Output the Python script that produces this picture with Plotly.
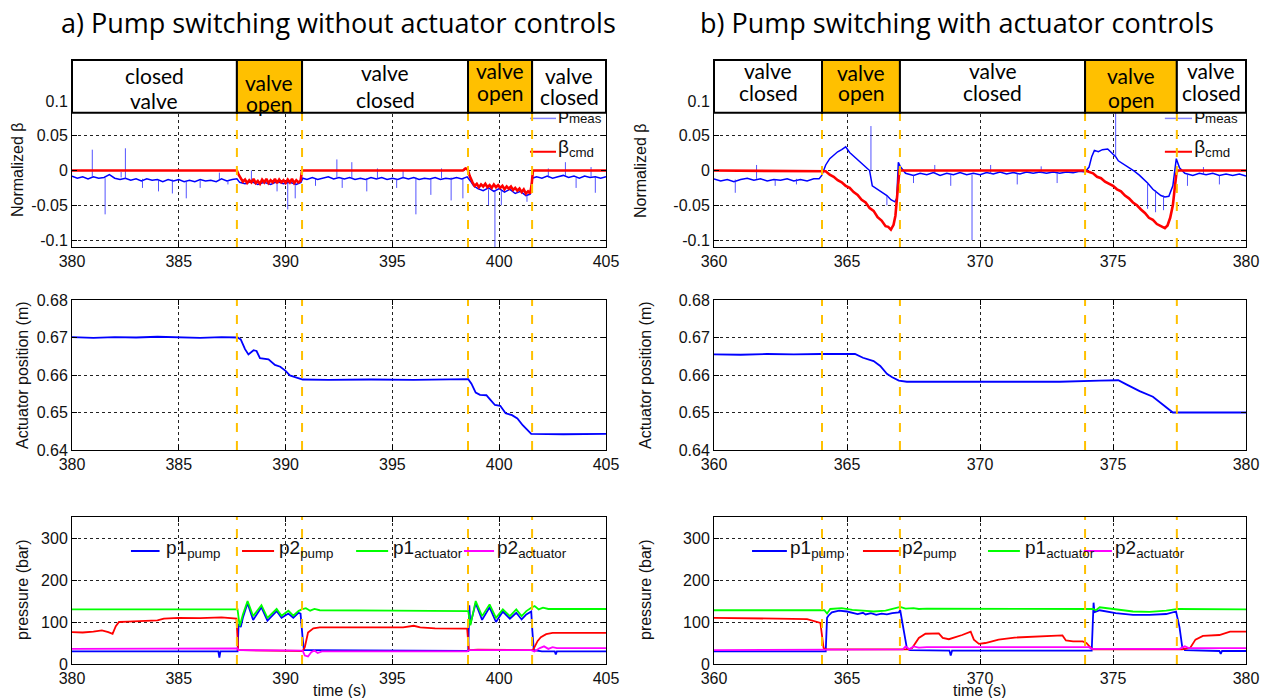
import plotly.graph_objects as go

W, H = 1271, 698

# ---------------- switching times / header ----------------
switch_a = [387.72, 390.77, 398.54, 401.54]
switch_b = [364.06, 366.99, 373.95, 377.40]

header_a_edges = [380, 387.72, 390.77, 398.54, 401.54, 405]
header_a_line1 = ["closed", "valve", "valve", "valve", "valve"]
header_a_line2 = ["valve", "open", "closed", "open", "closed"]
header_a_open = [False, True, False, True, False]
header_a_y1 = [0.1374, 0.1273, 0.1417, 0.1446, 0.1374]
header_a_y2 = [0.1014, 0.0971, 0.1029, 0.1129, 0.1058]

header_b_edges = [360, 364.06, 366.99, 373.95, 377.40, 380]
header_b_line1 = ["valve", "valve", "valve", "valve", "valve"]
header_b_line2 = ["closed", "open", "closed", "open", "closed"]
header_b_open = [False, True, False, True, False]
header_b_y1 = [0.1446, 0.1417, 0.1446, 0.1360, 0.1446]
header_b_y2 = [0.1129, 0.1129, 0.1129, 0.1029, 0.1129]

# ---------------- (a) normalized beta ----------------
beta_meas_a = [
    (380, -0.008), (380.25, -0.011), (380.5, -0.009), (380.75, -0.012), (381.0, -0.009), (381.25, -0.011),
    (381.5, -0.010), (381.75, -0.006), (382.0, -0.011), (382.25, -0.013), (382.5, -0.011), (382.75, -0.014),
    (383.0, -0.012), (383.25, -0.015), (383.5, -0.012), (383.75, -0.014), (384.0, -0.013), (384.25, -0.016),
    (384.5, -0.013), (384.75, -0.015), (385.0, -0.013), (385.25, -0.016), (385.5, -0.014), (385.75, -0.016),
    (386.0, -0.013), (386.25, -0.015), (386.5, -0.014), (386.75, -0.016), (387.0, -0.012), (387.25, -0.015),
    (387.5, -0.013), (387.72, -0.012), (387.85, -0.017), (388.1, -0.019), (388.4, -0.016), (388.7, -0.020),
    (389.0, -0.017), (389.3, -0.020), (389.6, -0.016), (389.9, -0.019), (390.2, -0.017), (390.5, -0.020),
    (390.72, -0.017), (390.8, -0.011), (391.0, -0.013), (391.25, -0.010), (391.5, -0.013), (391.75, -0.011),
    (392.0, -0.009), (392.25, -0.012), (392.5, -0.010), (392.75, -0.012), (393.0, -0.010), (393.25, -0.013),
    (393.5, -0.011), (393.75, -0.013), (394.0, -0.010), (394.25, -0.012), (394.5, -0.010), (394.75, -0.013),
    (395.0, -0.011), (395.25, -0.013), (395.5, -0.010), (395.75, -0.012), (396.0, -0.010), (396.25, -0.013),
    (396.5, -0.011), (396.75, -0.012), (397.0, -0.010), (397.25, -0.013), (397.5, -0.011), (397.75, -0.012),
    (398.0, -0.010), (398.25, -0.012), (398.5, -0.009), (398.65, -0.015), (398.8, -0.022), (399.0, -0.026),
    (399.25, -0.029), (399.5, -0.025), (399.75, -0.030), (400.0, -0.026), (400.25, -0.031), (400.5, -0.027),
    (400.75, -0.033), (401.0, -0.030), (401.25, -0.036), (401.45, -0.034), (401.55, -0.011), (401.75, -0.009),
    (402.0, -0.011), (402.25, -0.008), (402.5, -0.011), (402.75, -0.009), (403.0, -0.007), (403.25, -0.010),
    (403.5, -0.008), (403.75, -0.011), (404.0, -0.008), (404.25, -0.010), (404.5, -0.009), (404.75, -0.011),
    (405, -0.009),
]
# spikes: (time, base, peak)
beta_spikes_a = [
    (380.95, -0.009, 0.030), (381.55, -0.011, -0.063), (382.3, -0.010, -0.002), (382.5, -0.012, 0.032),
    (383.3, -0.012, -0.025), (384.05, -0.014, -0.030), (384.7, -0.013, -0.033), (385.35, -0.015, -0.040),
    (386.0, -0.014, -0.025), (386.9, -0.013, -0.003), (387.3, -0.014, -0.020), (388.4, -0.016, 0.000),
    (389.6, -0.017, -0.030), (390.1, -0.018, -0.056), (390.45, -0.016, -0.040), (390.75, -0.015, 0.002),
    (391.4, -0.012, -0.022), (392.4, -0.010, 0.016), (392.65, -0.011, -0.025), (393.1, -0.012, 0.012),
    (393.8, -0.011, -0.030), (394.3, -0.012, 0.003), (395.2, -0.012, -0.025), (395.5, -0.011, 0.000),
    (396.1, -0.010, -0.063), (396.8, -0.012, -0.035), (397.3, -0.011, 0.003), (397.75, -0.010, -0.043),
    (398.3, -0.012, -0.040), (399.5, -0.027, -0.050), (399.8, -0.028, -0.110), (400.1, -0.028, -0.050),
    (401.3, -0.035, -0.045), (402.3, -0.010, 0.003), (403.1, -0.008, 0.012), (403.6, -0.011, -0.025),
    (404.3, -0.009, 0.005), (404.5, -0.010, -0.032),
]
beta_cmd_a = [
    (380, 0), (387.72, 0), (387.8, -0.006), (387.9, -0.012), (388.0, -0.016), (388.1, -0.013), (388.2, -0.018),
    (388.3, -0.014), (388.4, -0.017), (388.5, -0.012), (388.6, -0.018), (388.7, -0.015), (388.8, -0.019),
    (388.9, -0.013), (389.0, -0.017), (389.1, -0.012), (389.2, -0.018), (389.3, -0.014), (389.4, -0.017),
    (389.5, -0.012), (389.6, -0.018), (389.7, -0.013), (389.8, -0.017), (389.9, -0.014), (390.0, -0.018),
    (390.1, -0.013), (390.2, -0.017), (390.3, -0.012), (390.4, -0.018), (390.5, -0.014), (390.6, -0.017),
    (390.7, -0.015), (390.77, 0), (398.3, 0),
    (398.42, 0.003), (398.52, 0.002), (398.62, -0.008), (398.75, -0.017), (398.85, -0.022), (398.95, -0.019),
    (399.05, -0.024), (399.15, -0.020), (399.25, -0.023), (399.35, -0.019), (399.45, -0.024), (399.55, -0.021),
    (399.65, -0.025), (399.75, -0.020), (399.85, -0.024), (399.95, -0.021), (400.05, -0.025), (400.15, -0.022),
    (400.25, -0.027), (400.35, -0.023), (400.45, -0.026), (400.55, -0.023), (400.65, -0.028), (400.75, -0.025),
    (400.85, -0.029), (400.95, -0.026), (401.05, -0.031), (401.15, -0.027), (401.25, -0.033), (401.35, -0.030),
    (401.45, -0.033), (401.52, -0.020), (401.58, 0),
    (405, 0),
]

# ---------------- (b) normalized beta ----------------
beta_meas_b = [
    (360, -0.012), (360.25, -0.015), (360.5, -0.013), (360.75, -0.016), (361.0, -0.013), (361.25, -0.011),
    (361.5, -0.014), (361.75, -0.012), (362.0, -0.015), (362.25, -0.013), (362.5, -0.014), (362.75, -0.012),
    (363.0, -0.015), (363.25, -0.013), (363.5, -0.015), (363.75, -0.012), (363.95, -0.012), (364.05, -0.007),
    (364.2, 0.008), (364.35, 0.017), (364.5, 0.022), (364.65, 0.027), (364.8, 0.030), (364.95, 0.034),
    (365.1, 0.026), (365.25, 0.021), (365.4, 0.015), (365.55, 0.010), (365.7, 0.005), (365.85, 0.000),
    (365.95, -0.022), (366.1, -0.026), (366.3, -0.031), (366.5, -0.036), (366.65, -0.042), (366.8, -0.045),
    (366.87, -0.040), (366.93, 0.012), (367.0, 0.006), (367.2, -0.004), (367.5, -0.007), (367.75, -0.004),
    (368.0, -0.006), (368.25, -0.003), (368.5, -0.007), (368.75, -0.004), (369.0, -0.006), (369.25, -0.003),
    (369.5, -0.006), (369.75, -0.004), (370.0, -0.006), (370.25, -0.003), (370.5, -0.005), (370.75, -0.002),
    (371.0, -0.005), (371.25, -0.003), (371.5, -0.005), (371.75, -0.002), (372.0, -0.004), (372.25, -0.002),
    (372.5, -0.004), (372.75, -0.002), (373.0, -0.004), (373.25, -0.002), (373.5, -0.003), (373.75, -0.001),
    (373.95, -0.002), (374.1, 0.005), (374.2, 0.020), (374.3, 0.029), (374.45, 0.027), (374.6, 0.030),
    (374.8, 0.031), (374.95, 0.026), (375.1, 0.020), (375.2, 0.014), (375.4, 0.009), (375.6, 0.005),
    (375.8, -0.001), (376.0, -0.007), (376.15, -0.012), (376.3, -0.018), (376.5, -0.027), (376.65, -0.032),
    (376.8, -0.036), (376.95, -0.038), (377.1, -0.037), (377.25, -0.022), (377.38, 0.017), (377.5, 0.004),
    (377.7, -0.004), (378.0, -0.007), (378.25, -0.004), (378.5, -0.006), (378.75, -0.004), (379.0, -0.007),
    (379.25, -0.005), (379.5, -0.007), (379.75, -0.005), (380, -0.008),
]
beta_spikes_b = [
    (360.8, -0.013, -0.032), (361.6, -0.012, 0.008), (362.3, -0.013, -0.022), (363.1, -0.012, -0.020),
    (365.9, 0.000, 0.064), (366.5, -0.036, -0.050), (367.5, -0.006, -0.018), (368.3, -0.005, 0.008),
    (368.9, -0.006, -0.022), (369.7, -0.006, -0.100), (370.4, -0.005, 0.008), (371.4, -0.004, -0.020),
    (372.3, -0.004, 0.006), (372.9, -0.004, -0.018), (375.1, 0.020, 0.090), (376.3, -0.018, -0.055),
    (376.6, -0.028, -0.060), (376.9, -0.036, -0.057), (377.8, -0.005, -0.022), (378.4, -0.006, 0.005),
    (379.0, -0.007, -0.020),
]
beta_cmd_b = [
    (360, 0), (364.06, 0), (364.2, -0.001), (364.35, -0.006), (364.5, -0.009), (364.65, -0.014), (364.8, -0.017),
    (364.95, -0.022), (365.1, -0.025), (365.25, -0.031), (365.4, -0.035), (365.55, -0.042), (365.7, -0.046),
    (365.85, -0.054), (366.0, -0.058), (366.15, -0.067), (366.3, -0.072), (366.45, -0.080), (366.55, -0.081),
    (366.65, -0.085), (366.75, -0.078), (366.82, -0.065), (366.87, -0.042), (366.92, -0.010), (366.97, 0),
    (373.95, 0), (374.1, -0.002), (374.25, -0.004), (374.4, -0.009), (374.55, -0.011), (374.7, -0.016),
    (374.85, -0.019), (375.0, -0.022), (375.15, -0.027), (375.3, -0.030), (375.45, -0.036), (375.6, -0.040),
    (375.75, -0.046), (375.9, -0.050), (376.05, -0.056), (376.2, -0.061), (376.35, -0.068), (376.5, -0.071),
    (376.65, -0.077), (376.8, -0.080), (376.95, -0.083), (377.05, -0.079), (377.15, -0.068), (377.25, -0.050),
    (377.32, -0.025), (377.38, -0.005), (377.42, 0), (380, 0),
]

# ---------------- actuator position ----------------
pos_a = [
    (380, 0.6701), (381, 0.6699), (382, 0.6701), (383, 0.6700), (384, 0.6702), (385, 0.6700), (386, 0.6699),
    (387, 0.6701), (387.75, 0.6700), (387.9, 0.6695), (388.1, 0.6669), (388.26, 0.6655), (388.5, 0.6666),
    (388.64, 0.6664), (388.8, 0.6645), (389.2, 0.6642), (389.5, 0.6627), (389.75, 0.6622), (390.0, 0.6611),
    (390.2, 0.6599), (390.6, 0.6593), (390.8, 0.6588), (392, 0.6587), (394, 0.6588), (396, 0.6587),
    (398.55, 0.6589), (398.7, 0.6577), (398.9, 0.6553), (399.1, 0.6547), (399.4, 0.6546), (399.6, 0.6533),
    (399.8, 0.6520), (400.05, 0.6518), (400.3, 0.6498), (400.6, 0.6493), (400.85, 0.6484), (401.1, 0.6466),
    (401.4, 0.6448), (401.5, 0.6443), (403, 0.6442), (405, 0.6443),
]
pos_b = [
    (360, 0.6655), (361, 0.6654), (362, 0.6656), (363, 0.6655), (364, 0.6656), (365.3, 0.6656),
    (365.6, 0.6646), (366.0, 0.6637), (366.25, 0.6624), (366.5, 0.6603), (366.7, 0.6594), (366.95, 0.6585),
    (367.25, 0.6582), (369, 0.6582), (371, 0.6583), (373, 0.6582), (374.5, 0.6585), (375.2, 0.6586),
    (375.5, 0.6575), (376.0, 0.6557), (376.5, 0.6542), (376.8, 0.6525), (377.1, 0.6507), (377.25, 0.6500),
    (378.5, 0.6500), (380, 0.6500),
]

# ---------------- pressures (bar) ----------------
p1_pump_a = [
    (380, 30), (386.85, 30), (386.9, 15), (386.95, 30), (387.75, 30), (387.8, 95), (387.9, 88), (388.0, 110),
    (388.22, 145), (388.48, 105), (388.87, 135), (389.15, 103), (389.58, 126), (389.81, 110), (390.13, 120),
    (390.36, 110), (390.6, 122), (390.7, 120), (390.8, 60), (390.86, 33), (391, 33), (395, 31), (398.55, 31),
    (398.6, 140), (398.65, 95), (398.9, 145), (399.2, 105), (399.55, 135), (399.85, 100), (400.17, 125),
    (400.5, 108), (400.8, 122), (401.05, 106), (401.27, 118), (401.5, 125), (401.55, 80), (401.62, 33),
    (402, 30), (402.6, 30), (402.65, 23), (402.7, 30), (405, 30),
]
p2_pump_a = [
    (380, 76), (380.5, 75), (381.0, 77), (381.4, 80), (381.7, 76), (381.9, 72), (382.05, 90), (382.2, 100),
    (382.6, 101), (383.5, 102), (384.0, 104), (384.3, 108), (385, 110), (386, 109), (387, 111), (387.7, 108),
    (387.78, 33), (388, 33), (390.8, 31), (390.9, 40), (391.05, 75), (391.3, 85), (391.6, 87), (393, 87),
    (395.5, 87), (396.0, 91), (396.3, 87), (397, 85), (398.5, 84), (398.58, 33), (399, 34), (401.5, 33),
    (401.6, 35), (401.8, 55), (401.95, 64), (402.2, 71), (402.5, 74), (405, 74),
]
p1_act_a = [
    (380, 130), (387.75, 130), (387.85, 90), (388.0, 118), (388.22, 150), (388.48, 114), (388.87, 140),
    (389.15, 110), (389.58, 131), (389.81, 115), (390.13, 127), (390.36, 115), (390.6, 126), (390.75, 130),
    (390.95, 133), (391.15, 127), (391.35, 131), (391.6, 128), (395, 127), (398.55, 126), (398.65, 92),
    (398.9, 150), (399.2, 114), (399.55, 142), (399.85, 110), (400.17, 130), (400.5, 114), (400.8, 130),
    (401.05, 114), (401.27, 126), (401.5, 134), (401.66, 138), (401.85, 130), (402.05, 134), (402.3, 131),
    (405, 131),
]
p2_act_a = [
    (380, 36), (387.75, 37), (387.8, 33), (390.8, 32), (390.9, 20), (391.05, 18), (391.2, 28), (391.35, 32),
    (391.5, 26), (391.7, 30), (398.5, 30), (398.6, 33), (401.5, 33), (401.65, 30), (401.9, 38), (402.1, 42),
    (402.3, 36), (402.5, 40), (402.7, 38), (405, 38),
]

p1_pump_b = [
    (360, 30), (364.2, 30), (364.25, 110), (364.3, 115), (364.43, 123), (364.7, 127), (365.0, 125),
    (365.2, 122), (365.4, 119), (365.6, 122), (365.7, 118), (365.9, 121), (366.1, 117), (366.3, 120),
    (366.5, 118), (366.7, 121), (366.95, 123), (367.0, 128), (367.15, 73), (367.25, 38), (367.35, 33),
    (368.85, 32), (368.9, 20), (368.95, 32), (374.2, 32), (374.27, 146), (374.3, 123), (374.5, 128),
    (375.1, 121), (375.75, 117), (376.37, 117), (377.0, 119), (377.37, 125), (377.5, 88), (377.6, 42),
    (377.7, 33), (379.0, 31), (379.05, 24), (379.1, 31), (380, 31),
]
p2_pump_b = [
    (360, 110), (362, 109), (363.5, 107), (364.0, 98), (364.12, 38), (364.2, 35), (367.3, 35), (367.45, 38),
    (367.7, 62), (367.95, 72), (368.45, 73), (368.6, 62), (368.83, 59), (369.33, 69), (369.65, 77),
    (369.77, 58), (369.96, 48), (370.2, 50), (370.7, 58), (371.3, 63), (371.97, 65), (373.1, 68),
    (373.23, 56), (373.5, 54), (373.86, 54), (374.0, 50), (374.17, 38), (374.25, 35), (377.6, 35),
    (377.9, 38), (378.1, 58), (378.38, 67), (379.0, 69), (379.4, 77), (380, 77),
]
p1_act_b = [
    (360, 128), (364.15, 128), (364.25, 120), (364.37, 131), (364.8, 133), (365.2, 129), (365.6, 127),
    (366.0, 125), (366.45, 127), (366.9, 133), (367.0, 136), (367.2, 132), (367.5, 133), (367.7, 131),
    (368, 132), (374.25, 131), (374.36, 128), (374.5, 135), (375.0, 131), (375.75, 125), (376.37, 124),
    (377.0, 127), (377.45, 131), (377.6, 131), (380, 130),
]
p2_act_b = [
    (360, 33), (367.1, 35), (367.2, 42), (367.35, 35), (367.5, 42), (367.7, 39), (368, 40), (374.1, 40),
    (374.2, 36), (377.5, 36), (377.7, 42), (377.85, 38), (380, 38),
]

# ---------------- axes ticks ----------------
xticks_a = [380, 385, 390, 395, 400, 405]
xticks_b = [360, 365, 370, 375, 380]
beta_ticks = [-0.1, -0.05, 0, 0.05, 0.1]
beta_ticklabels = ["-0.1", "-0.05", "0", "0.05", "0.1"]
pos_ticks = [0.64, 0.65, 0.66, 0.67, 0.68]
pos_ticklabels = ["0.64", "0.65", "0.66", "0.67", "0.68"]
p_ticks = [0, 100, 200, 300]

# ---------------- colours ----------------
BLUE = "#0000FF"
RED = "#FF0000"
GREEN = "#00FF00"
MAGENTA = "#FF00FF"
ORANGE = "#FFC000"

TICKFONT = dict(family="Liberation Sans, Arial, sans-serif", size=16, color="#111111")
HEADFONT = dict(family="Lato, Open Sans, sans-serif", size=21, color="#000000")


def xy(pairs):
    return [p[0] for p in pairs], [p[1] for p in pairs]


def spike_xy(lst):
    xs, ys = [], []
    for t, b, p in lst:
        xs += [t, t, None]
        ys += [b, p, None]
    return xs, ys


# paper layout (pixels -> fractions)
xdom_a = [72 / W, 606 / W]
xdom_b = [714 / W, 1246 / W]
ydom_top = [1 - 247 / H, 1 - 60 / H]
ydom_mid = [1 - 450 / H, 1 - 300 / H]
ydom_bot = [1 - 664 / H, 1 - 517 / H]

BETA_RANGE = [-0.110, 0.159]
HEADER_BOTTOM = 0.083

fig = go.Figure()


def add_line(pairs, color, width, xa, ya):
    x, y = xy(pairs)
    fig.add_trace(go.Scatter(x=x, y=y, mode="lines", line=dict(color=color, width=width),
                             xaxis=xa, yaxis=ya, showlegend=False, hoverinfo="skip"))


# top row
for meas, spk, cmd, xa, ya in [(beta_meas_a, beta_spikes_a, beta_cmd_a, "x", "y"),
                                (beta_meas_b, beta_spikes_b, beta_cmd_b, "x2", "y2")]:
    add_line(meas, BLUE, 1.5, xa, ya)
    sx, sy = spike_xy(spk)
    fig.add_trace(go.Scatter(x=sx, y=sy, mode="lines", line=dict(color="rgba(40,40,255,0.8)", width=1),
                             xaxis=xa, yaxis=ya, showlegend=False, hoverinfo="skip"))
    add_line(cmd, RED, 2.6, xa, ya)

# middle row
add_line(pos_a, BLUE, 1.8, "x3", "y3")
add_line(pos_b, BLUE, 1.8, "x4", "y4")

# bottom row
for series, xa, ya in [((p1_pump_a, p2_pump_a, p1_act_a, p2_act_a), "x5", "y5"),
                       ((p1_pump_b, p2_pump_b, p1_act_b, p2_act_b), "x6", "y6")]:
    for pairs, col in zip(series, [BLUE, RED, GREEN, MAGENTA]):
        add_line(pairs, col, 1.8, xa, ya)

# legend labels of top row as text traces (partly covered by header box as in original)
for xa, ya, xl in [("x", "y", 402.75), ("x2", "y2", 378.05)]:
    fig.add_trace(go.Scatter(x=[xl, xl], y=[0.081, 0.032], mode="text",
                             text=["β<sub>meas</sub>", "β<sub>cmd</sub>"], textposition="middle right",
                             textfont=dict(family="Liberation Sans, Arial", size=19, color="#111"),
                             xaxis=xa, yaxis=ya, showlegend=False, hoverinfo="skip", cliponaxis=False))

shapes = []
annotations = []

# top-row legend keys
for xr, yr, x0, x1 in [("x", "y", 401.44, 402.66), ("x2", "y2", 376.95, 377.97)]:
    shapes.append(dict(type="line", xref=xr, yref=yr, x0=x0, x1=x1, y0=0.075, y1=0.075,
                       line=dict(color="rgba(90,90,255,0.75)", width=1.5), layer="above"))
    shapes.append(dict(type="line", xref=xr, yref=yr, x0=x0, x1=x1, y0=0.027, y1=0.027,
                       line=dict(color=RED, width=2), layer="above"))

# dashed switching lines
for sw, rows in [(switch_a, [("x", "y", BETA_RANGE[0], HEADER_BOTTOM), ("x3", "y3", 0.64, 0.68), ("x5", "y5", 0, 350)]),
                 (switch_b, [("x2", "y2", BETA_RANGE[0], HEADER_BOTTOM), ("x4", "y4", 0.64, 0.68), ("x6", "y6", 0, 350)])]:
    for t in sw:
        for xr, yr, y0, y1 in rows:
            shapes.append(dict(type="line", xref=xr, yref=yr, x0=t, x1=t, y0=y0, y1=y1,
                               line=dict(color=ORANGE, width=2, dash="dash"), layer="above"))

# header boxes
for edges, l1, l2, opens, y1s, y2s, xr, yr in [
        (header_a_edges, header_a_line1, header_a_line2, header_a_open, header_a_y1, header_a_y2, "x", "y"),
        (header_b_edges, header_b_line1, header_b_line2, header_b_open, header_b_y1, header_b_y2, "x2", "y2")]:
    for i in range(len(l1)):
        shapes.append(dict(type="rect", xref=xr, yref=yr, x0=edges[i], x1=edges[i + 1],
                           y0=HEADER_BOTTOM, y1=BETA_RANGE[1],
                           fillcolor=ORANGE if opens[i] else "white",
                           line=dict(color="black", width=2), layer="above"))
        xc = (edges[i] + edges[i + 1]) / 2
        for txt, yv in [(l1[i], y1s[i]), (l2[i], y2s[i])]:
            annotations.append(dict(xref=xr, yref=yr, x=xc, y=yv, text=txt, showarrow=False, font=HEADFONT,
                                    xanchor="center", yanchor="middle"))

# bottom legends
LEG_Y = 269
leg_labels = ["p1<sub>pump</sub>", "p2<sub>pump</sub>", "p1<sub>actuator</sub>", "p2<sub>actuator</sub>"]
leg_cols = [BLUE, RED, GREEN, MAGENTA]
leg_a = [(382.76, 384.1, 384.3), (387.96, 389.46, 389.6), (393.3, 394.8, 394.95), (398.35, 399.76, 399.8)]
leg_b = [(361.43, 362.74, 362.8), (365.6, 366.95, 367.0), (370.3, 371.5, 371.6), (373.9, 374.96, 375.0)]
for leg, xr, yr in [(leg_a, "x5", "y5"), (leg_b, "x6", "y6")]:
    for (x0, x1, xt), lab, col in zip(leg, leg_labels, leg_cols):
        shapes.append(dict(type="line", xref=xr, yref=yr, x0=x0, x1=x1, y0=LEG_Y, y1=LEG_Y,
                           line=dict(color=col, width=2), layer="above"))
        annotations.append(dict(xref=xr, yref=yr, x=xt, y=LEG_Y + 4, text=lab, showarrow=False,
                                xanchor="left", yanchor="middle",
                                font=dict(family="Liberation Sans, Arial", size=19, color="#111")))

# titles
TITLEFONT = dict(family="Open Sans, Lato, sans-serif", size=27, color="black")
annotations.append(dict(xref="paper", yref="paper", x=338 / W, y=1 - 22 / H, showarrow=False,
                        xanchor="center", yanchor="middle",
                        text="a) Pump switching without actuator controls", font=TITLEFONT))
annotations.append(dict(xref="paper", yref="paper", x=957 / W, y=1 - 22 / H, showarrow=False,
                        xanchor="center", yanchor="middle",
                        text="b) Pump switching with actuator controls", font=TITLEFONT))

# axis titles
ATF = dict(family="Liberation Sans, Arial", size=16, color="#111")
for xp, yp, txt in [(18, 170, "Normalized β"), (22, 375, "Actuator position (m)"), (22, 590, "pressure (bar)"),
                    (641, 170, "Normalized β"), (645, 375, "Actuator position (m)"), (645, 590, "pressure (bar)")]:
    annotations.append(dict(xref="paper", yref="paper", x=xp / W, y=1 - yp / H, text=txt, textangle=-90,
                            showarrow=False, font=ATF, xanchor="center", yanchor="middle"))
for xp in [339, 980]:
    annotations.append(dict(xref="paper", yref="paper", x=xp / W, y=1 - 690 / H, text="time (s)",
                            showarrow=False, font=ATF, xanchor="center", yanchor="middle"))

common = dict(showline=True, linecolor="black", linewidth=1, mirror="ticks", ticks="inside", ticklen=5,
              tickcolor="black", showgrid=True, gridcolor="#222222", griddash="dot", gridwidth=1,
              zeroline=False, tickfont=TICKFONT, fixedrange=True, automargin=False)

layout_axes = {}
for i, (xd, yd, xr, xt, yr, yt, ytt) in enumerate([
    (xdom_a, ydom_top, [380, 405], xticks_a, BETA_RANGE, beta_ticks, beta_ticklabels),
    (xdom_b, ydom_top, [360, 380], xticks_b, BETA_RANGE, beta_ticks, beta_ticklabels),
    (xdom_a, ydom_mid, [380, 405], xticks_a, [0.64, 0.68], pos_ticks, pos_ticklabels),
    (xdom_b, ydom_mid, [360, 380], xticks_b, [0.64, 0.68], pos_ticks, pos_ticklabels),
    (xdom_a, ydom_bot, [380, 405], xticks_a, [0, 350], p_ticks, [str(v) for v in p_ticks]),
    (xdom_b, ydom_bot, [360, 380], xticks_b, [0, 350], p_ticks, [str(v) for v in p_ticks]),
]):
    n = "" if i == 0 else str(i + 1)
    layout_axes["xaxis" + n] = dict(common, domain=xd, range=xr, tickvals=xt, ticktext=[str(v) for v in xt],
                                    anchor="y" + n)
    layout_axes["yaxis" + n] = dict(common, domain=yd, range=yr, tickvals=yt, ticktext=ytt, anchor="x" + n)

fig.update_layout(width=W, height=H, autosize=False, margin=dict(l=0, r=0, t=0, b=0),
                  paper_bgcolor="white", plot_bgcolor="white", showlegend=False,
                  shapes=shapes, annotations=annotations, **layout_axes)

fig.write_html("out.html")
